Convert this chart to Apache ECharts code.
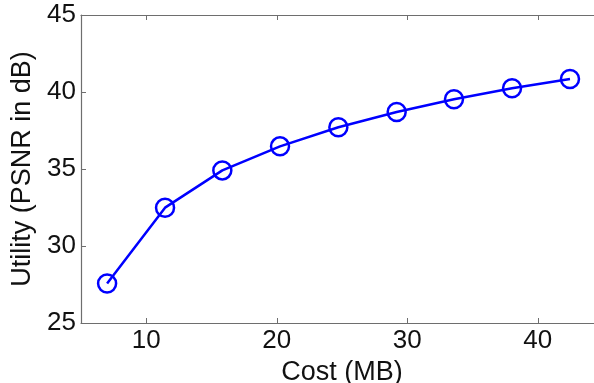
<!DOCTYPE html>
<html>
<head>
<meta charset="utf-8">
<script src="https://cdn.jsdelivr.net/npm/echarts@6/dist/echarts.min.js"></script>
<style>
  html, body { margin: 0; padding: 0; background: #fff; }
  #chart { width: 594px; height: 383px; }
</style>
</head>
<body>
<div id="chart"></div>
<script>
// Storage cost versus reconstruction quality
const costMB = [7.0, 11.44, 15.83, 20.25, 24.72, 29.19, 33.58, 38.03, 42.47];
const psnrDB = [27.56, 32.49, 34.91, 36.47, 37.71, 38.70, 39.53, 40.24, 40.84];
const xTicks = [10, 20, 30, 40];
const yTicks = [25, 30, 35, 40, 45];

const FONT = 'Liberation Sans, Arial, Helvetica, sans-serif';
const AXIS_GRAY = '#6e6e6e';

const points = costMB.map((c, i) => [c, psnrDB[i]]);

const frameAxis = {
  axisLine: { show: true, lineStyle: { color: AXIS_GRAY, width: 1.2 } },
  axisTick: { show: true, inside: true, length: 5, lineStyle: { color: AXIS_GRAY } },
  splitLine: { show: false }
};

const chart = echarts.init(document.getElementById('chart'), null, { renderer: 'canvas' });
chart.setOption({
  animation: false,
  backgroundColor: '#ffffff',
  grid: { left: 81, top: 15, right: -9, bottom: 60, containLabel: false, outerBoundsMode: 'none' },
  xAxis: [
    Object.assign({}, frameAxis, {
      type: 'value', position: 'bottom', min: 5, max: 45,
      axisTick: Object.assign({}, frameAxis.axisTick, { customValues: xTicks }),
      axisLabel: {
        customValues: xTicks, color: '#111', fontFamily: FONT, fontSize: 26, margin: 5
      },
      name: 'Cost (MB)', nameLocation: 'middle', nameGap: 34,
      nameTextStyle: { color: '#111', fontFamily: FONT, fontSize: 27 }
    }),
    Object.assign({}, frameAxis, {
      type: 'value', position: 'top', min: 5, max: 45,
      axisTick: Object.assign({}, frameAxis.axisTick, { customValues: xTicks }),
      axisLabel: { show: false }
    })
  ],
  yAxis: [
    Object.assign({}, frameAxis, {
      type: 'value', position: 'left', min: 25, max: 45, interval: 5,
      axisLabel: { customValues: yTicks, color: '#111', fontFamily: FONT, fontSize: 26, margin: 5 },
      name: 'Utility (PSNR in dB)', nameLocation: 'middle', nameGap: 44,
      nameTextStyle: { color: '#111', fontFamily: FONT, fontSize: 27 }
    }),
    Object.assign({}, frameAxis, {
      type: 'value', position: 'right', min: 25, max: 45, interval: 5,
      axisLabel: { show: false }
    })
  ],
  series: [{
    type: 'line',
    data: points,
    xAxisIndex: 0,
    yAxisIndex: 0,
    symbol: 'circle',
    symbolSize: 18,
    showAllSymbol: true,
    lineStyle: { color: '#0000ff', width: 2.5 },
    itemStyle: { color: 'rgba(255,255,255,0)', borderColor: '#0000ff', borderWidth: 2.5 },
    z: 3
  }]
});
</script>
</body>
</html>
